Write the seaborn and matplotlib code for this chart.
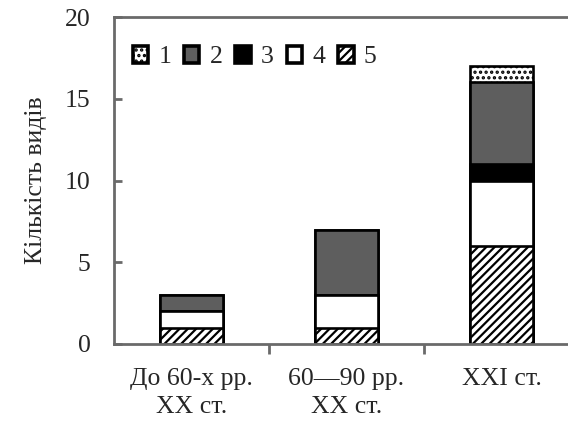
import numpy as np
import pandas as pd
import matplotlib
matplotlib.use("Agg")
import matplotlib.pyplot as plt
import seaborn as sns
from matplotlib.patches import Patch

# Data (species count per period and group)
periods = ["До 60-х рр.\nXX ст.", "60—90 рр.\nXX ст.", "XXI ст."]
group_names = ["1", "2", "3", "4", "5"]
group1 = [0, 0, 1]
group2 = [1, 4, 5]
group3 = [0, 0, 1]
group4 = [1, 2, 4]
group5 = [1, 1, 6]

sns.set_theme(style="white")
plt.rcParams['font.family'] = 'serif'
plt.rcParams['font.serif'] = ['Liberation Serif', 'DejaVu Serif']
plt.rcParams['hatch.linewidth'] = 1.6
plt.rcParams['hatch.color'] = 'black'

# styles bottom segment (5) to top segment (1)
styles = {
    "1": dict(color="white", hatch="..."),
    "2": dict(color="#5e5e5e", hatch=None),
    "3": dict(color="black", hatch=None),
    "4": dict(color="white", hatch=None),
    "5": dict(color="white", hatch="////"),
}

df = pd.DataFrame({"period": periods, "1": group1, "2": group2, "3": group3,
                   "4": group4, "5": group5})

# cumulative heights from the bottom (5 at bottom, 1 on top)
stack_order = ["5", "4", "3", "2", "1"]
cum = df[stack_order].cumsum(axis=1)

fig = plt.figure(figsize=(5.68, 4.25), dpi=100)
ax = fig.add_axes([114 / 568, 1 - 344 / 425, 465 / 568, 327 / 425])

# draw tallest first so lower segments are painted over it
for name in reversed(stack_order):
    st = styles[name]
    sns.barplot(x=df["period"], y=cum[name], ax=ax, color=st["color"],
                width=0.41, edgecolor="black", linewidth=1.9,
                saturation=1, errorbar=None)
    if st["hatch"]:
        for p in ax.patches[-3:]:
            p.set_hatch(st["hatch"])

fs = 18.5
ax.set_xlim(-0.5, 2.5)
ax.set_ylim(0, 20)
ax.set_yticks([0, 5, 10, 15, 20])
ax.set_xlabel("")
ax.set_ylabel("Кількість видів", fontsize=fs)
ax.yaxis.set_label_coords(-0.145, 0.5)

spine_col = "#6a6a6a"
for s in ax.spines.values():
    s.set_color(spine_col)
    s.set_linewidth(2)
    s.set_visible(True)

ax.tick_params(axis="y", direction="in", length=6, width=2, color=spine_col,
               labelsize=fs, pad=17, left=True)
ax.tick_params(axis="x", which="major", length=0, labelsize=fs, pad=17)
for lbl in ax.get_xticklabels():
    lbl.set_linespacing(1.35)
ax.set_xticks([0.5, 1.5], minor=True)
ax.tick_params(axis="x", which="minor", direction="out", length=7, width=2,
               color=spine_col, bottom=True)

handles = [Patch(facecolor=styles[n]["color"], hatch=styles[n]["hatch"],
                 edgecolor="black", linewidth=2.6, label=n) for n in group_names]
ax.legend(handles=handles, loc="upper left", bbox_to_anchor=(0.04, 0.912),
          ncol=5, frameon=False, fontsize=fs, handlelength=0.6,
          handleheight=0.65, handletextpad=0.4, columnspacing=0.5,
          borderpad=0, borderaxespad=0)

fig.savefig("out.png", dpi=100)
